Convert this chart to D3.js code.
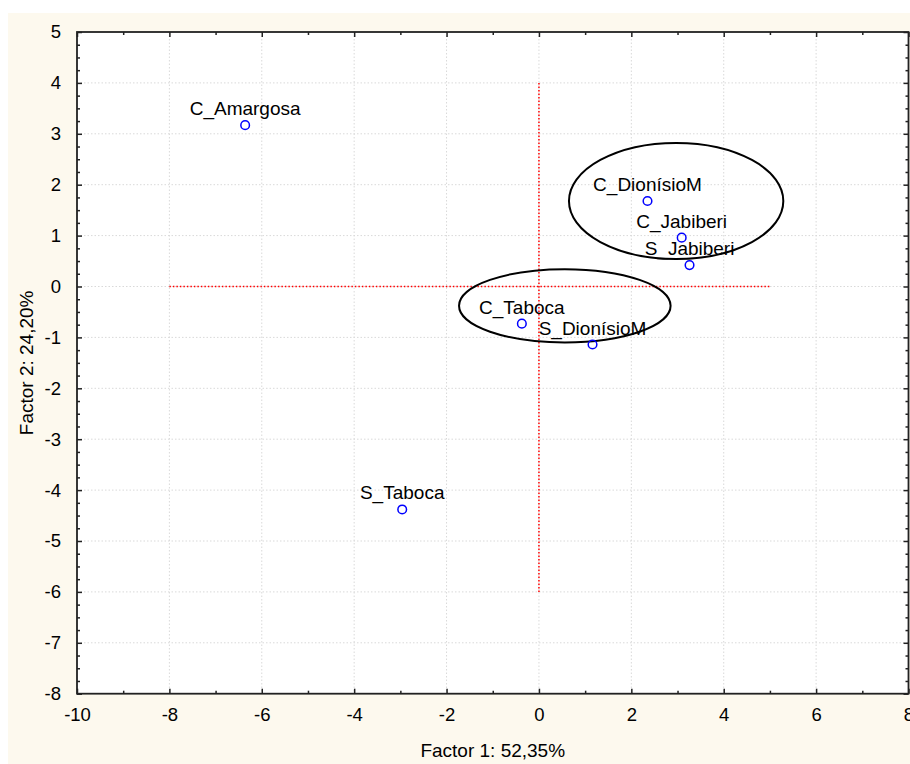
<!DOCTYPE html>
<html>
<head>
<meta charset="utf-8">
<script src="https://cdn.jsdelivr.net/npm/d3@7"></script>
<style>
  body { margin: 0; background: #fff; }
  svg { display: block; font-family: "Liberation Sans", Arial, sans-serif; }
</style>
</head>
<body>
<div id="chart"></div>
<script>
// site labels and factor scores
const sites = ["C_Amargosa", "C_DionísioM", "C_Jabiberi", "S_Jabiberi", "C_Taboca", "S_DionísioM", "S_Taboca"];
const factor1 = [-6.36, 2.35, 3.09, 3.26, -0.37, 1.16, -2.96];
const factor2 = [3.17, 1.68, 0.96, 0.42, -0.73, -1.14, -4.38];

const xTicks = [-10, -8, -6, -4, -2, 0, 2, 4, 6, 8];
const yTicks = [5, 4, 3, 2, 1, 0, -1, -2, -3, -4, -5, -6, -7, -8];

// groups drawn as ellipses (data units)
const groups = [
    { cx: 2.97, cy: 1.68, rx: 2.32, ry: 1.14 },
    { cx: 0.56, cy: -0.38, rx: 2.29, ry: 0.72 }
];

// dotted red reference lines through origin
const hLine = { y: 0, x1: -8, x2: 5 };
const vLine = { x: 0, y1: -6, y2: 4 };

const W = 910, H = 764;
const plot = { left: 77, right: 908.5, top: 32, bottom: 693.7 };

const svg = d3.select("#chart").append("svg")
    .attr("width", W)
    .attr("height", H);

// cream panel
svg.append("rect")
    .attr("x", 8).attr("y", 13)
    .attr("width", W - 8).attr("height", H - 13)
    .attr("fill", "#fdf9ee");

const x = d3.scaleLinear().domain([-10, 8]).range([plot.left, plot.right]);
const y = d3.scaleLinear().domain([-8, 5]).range([plot.bottom, plot.top]);

svg.append("rect")
    .attr("x", plot.left).attr("y", plot.top)
    .attr("width", plot.right - plot.left).attr("height", plot.bottom - plot.top)
    .attr("fill", "#fff");

// grid
const grid = svg.append("g").attr("stroke", "#d9d9d9").attr("stroke-dasharray", "1.5,2").attr("stroke-width", 1);
grid.selectAll(".gx").data(xTicks.slice(1, -1)).enter().append("line")
    .attr("x1", d => x(d)).attr("x2", d => x(d))
    .attr("y1", plot.top).attr("y2", plot.bottom);
grid.selectAll(".gy").data(yTicks.slice(1, -1)).enter().append("line")
    .attr("y1", d => y(d)).attr("y2", d => y(d))
    .attr("x1", plot.left).attr("x2", plot.right);

// axes (ticks inside on all four sides)
const fmt = d => String(d);
const xMinor = d3.range(-9, 8, 2);
const yMinor = d3.range(-8, 5.01, 0.25).filter(v => Math.abs(v - Math.round(v)) > 0.01);

function styleAxis(g) {
    g.select(".domain").remove();
    g.selectAll(".tick line").attr("stroke", "#222").attr("stroke-width", 1.5);
    g.selectAll("text").attr("fill", "#000").style("font-size", "18.5px");
}

function addAxis(axisFn, pos, values, size, labels, pad) {
    const a = axisFn.tickValues(values).tickSizeInner(size).tickSizeOuter(0);
    if (labels) a.tickFormat(fmt).tickPadding(pad); else a.tickFormat("");
    svg.append("g").attr("transform", pos).call(a).call(styleAxis);
}

addAxis(d3.axisBottom(x), `translate(0,${plot.bottom})`, xTicks, -5, true, 14);
addAxis(d3.axisBottom(x), `translate(0,${plot.bottom})`, xMinor, -3, false);
addAxis(d3.axisTop(x), `translate(0,${plot.top})`, xTicks, -5, false);
addAxis(d3.axisTop(x), `translate(0,${plot.top})`, xMinor, -3, false);
addAxis(d3.axisLeft(y), `translate(${plot.left},0)`, yTicks, -5, true, 16);
addAxis(d3.axisLeft(y), `translate(${plot.left},0)`, yMinor, -3, false);
addAxis(d3.axisRight(y), `translate(${plot.right},0)`, yTicks, -5, false);
addAxis(d3.axisRight(y), `translate(${plot.right},0)`, yMinor, -3, false);

// frame
svg.append("rect")
    .attr("x", plot.left).attr("y", plot.top)
    .attr("width", plot.right - plot.left).attr("height", plot.bottom - plot.top)
    .attr("fill", "none").attr("stroke", "#222").attr("stroke-width", 1.8);

// reference lines
svg.append("line")
    .attr("x1", x(hLine.x1)).attr("x2", x(hLine.x2))
    .attr("y1", y(hLine.y)).attr("y2", y(hLine.y))
    .attr("stroke", "#ff0000").attr("stroke-width", 1.5).attr("stroke-dasharray", "1.5,2");
svg.append("line")
    .attr("x1", x(vLine.x)).attr("x2", x(vLine.x))
    .attr("y1", y(vLine.y1)).attr("y2", y(vLine.y2))
    .attr("stroke", "#ff0000").attr("stroke-width", 1.5).attr("stroke-dasharray", "1.5,2");

// group ellipses
svg.selectAll(".grp").data(groups).enter().append("ellipse")
    .attr("cx", d => x(d.cx)).attr("cy", d => y(d.cy))
    .attr("rx", d => x(d.rx) - x(0)).attr("ry", d => y(0) - y(d.ry))
    .attr("fill", "none").attr("stroke", "#000").attr("stroke-width", 2);

// points and labels
const pts = sites.map((s, i) => ({ name: s, f1: factor1[i], f2: factor2[i] }));

svg.selectAll(".pt").data(pts).enter().append("circle")
    .attr("cx", d => x(d.f1)).attr("cy", d => y(d.f2))
    .attr("r", 4.3)
    .attr("fill", "none").attr("stroke", "#0000ff").attr("stroke-width", 1.5);

svg.selectAll(".lbl").data(pts).enter().append("text")
    .attr("x", d => x(d.f1)).attr("y", d => y(d.f2) - 10)
    .attr("text-anchor", "middle")
    .style("font-size", "19px")
    .attr("fill", "#000")
    .text(d => d.name);

// axis titles
svg.append("text")
    .attr("x", (plot.left + plot.right) / 2).attr("y", 757)
    .attr("text-anchor", "middle").style("font-size", "19px").attr("fill", "#000")
    .text("Factor 1: 52,35%");
svg.append("text")
    .attr("transform", `translate(33,${(plot.top + plot.bottom) / 2}) rotate(-90)`)
    .attr("text-anchor", "middle").style("font-size", "19px").attr("fill", "#000")
    .text("Factor 2: 24,20%");
</script>
</body>
</html>
